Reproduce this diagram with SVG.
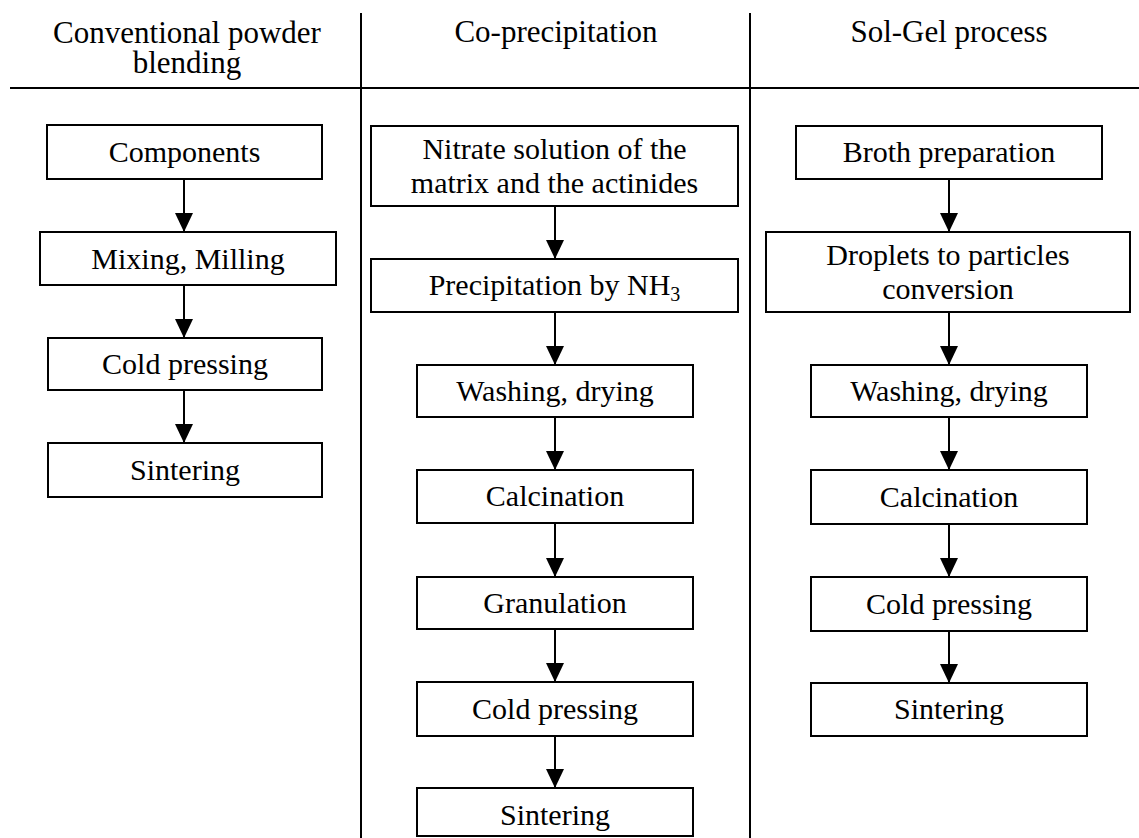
<svg xmlns="http://www.w3.org/2000/svg" width="1139" height="838" viewBox="0 0 1139 838">
  <style>
    text { font-family: "Times New Roman", "Liberation Serif", Tinos, "Noto Serif", "DejaVu Serif", FreeSerif, serif; fill: #000; text-anchor: middle; }
    .hdr { font-size: 31px; }
    .lbl { font-size: 30px; }
    .box { fill: #fff; stroke: #000; stroke-width: 2; }
    .rule { stroke: #000; stroke-width: 2; fill: none; }
    .edge { stroke: #000; stroke-width: 2; fill: none; marker-end: url(#head); }
  </style>
  <defs>
    <marker id="head" markerUnits="userSpaceOnUse" markerWidth="20" markerHeight="20" refX="19" refY="9" orient="auto">
      <path d="M0,0 L19,9 L0,18 Z" fill="#000"/>
    </marker>
  </defs>

  <rect width="1139" height="838" fill="#fff"/>

  <!-- table header -->
  <g id="header">
    <line class="rule" x1="10" y1="88" x2="1139" y2="88" stroke-width="3"/>
    <line class="rule" x1="361" y1="13" x2="361" y2="838"/>
    <line class="rule" x1="750" y1="13" x2="750" y2="838"/>
    <text class="hdr" x="187" y="43">Conventional powder</text>
    <text class="hdr" x="187" y="73">blending</text>
    <text class="hdr" x="556" y="42">Co-precipitation</text>
    <text class="hdr" x="949" y="42">Sol-Gel process</text>
  </g>

  <!-- connectors -->
  <g id="connectors">
    <path class="edge" d="M184,179 V232"/>
    <path class="edge" d="M184,285 V338"/>
    <path class="edge" d="M184,390 V443"/>

    <path class="edge" d="M555,206 V259"/>
    <path class="edge" d="M555,312 V365"/>
    <path class="edge" d="M555,417 V470"/>
    <path class="edge" d="M555,523 V577"/>
    <path class="edge" d="M555,629 V682"/>
    <path class="edge" d="M555,736 V788"/>

    <path class="edge" d="M949,179 V232"/>
    <path class="edge" d="M949,312 V365"/>
    <path class="edge" d="M949,417 V470"/>
    <path class="edge" d="M949,524 V577"/>
    <path class="edge" d="M949,631 V683"/>
  </g>

  <!-- conventional powder blending -->
  <g id="cpb-components">
    <rect class="box" x="47" y="125" width="275" height="54"/>
    <text class="lbl" x="184.5" y="162">Components</text>
  </g>
  <g id="cpb-mixing">
    <rect class="box" x="40" y="232" width="296" height="53"/>
    <text class="lbl" x="188" y="269">Mixing, Milling</text>
  </g>
  <g id="cpb-pressing">
    <rect class="box" x="48" y="338" width="274" height="52"/>
    <text class="lbl" x="185" y="374">Cold pressing</text>
  </g>
  <g id="cpb-sintering">
    <rect class="box" x="48" y="443" width="274" height="54"/>
    <text class="lbl" x="185" y="480">Sintering</text>
  </g>

  <!-- co-precipitation -->
  <g id="cop-nitrate">
    <rect class="box" x="371" y="126" width="367" height="80"/>
    <text class="lbl" x="554.5" y="159">Nitrate solution of the</text>
    <text class="lbl" x="554.5" y="193">matrix and the actinides</text>
  </g>
  <g id="cop-precipitation">
    <rect class="box" x="371" y="259" width="367" height="53"/>
    <text class="lbl" x="554.5" y="295">Precipitation by NH<tspan font-size="20" dy="6">3</tspan></text>
  </g>
  <g id="cop-washing">
    <rect class="box" x="417" y="365" width="276" height="52"/>
    <text class="lbl" x="555" y="401">Washing, drying</text>
  </g>
  <g id="cop-calcination">
    <rect class="box" x="417" y="470" width="276" height="53"/>
    <text class="lbl" x="555" y="506">Calcination</text>
  </g>
  <g id="cop-granulation">
    <rect class="box" x="417" y="577" width="276" height="52"/>
    <text class="lbl" x="555" y="613">Granulation</text>
  </g>
  <g id="cop-pressing">
    <rect class="box" x="417" y="682" width="276" height="54"/>
    <text class="lbl" x="555" y="719">Cold pressing</text>
  </g>
  <g id="cop-sintering">
    <rect class="box" x="417" y="788" width="276" height="48"/>
    <text class="lbl" x="555" y="825">Sintering</text>
  </g>

  <!-- sol-gel process -->
  <g id="sg-broth">
    <rect class="box" x="796" y="126" width="306" height="53"/>
    <text class="lbl" x="949" y="162">Broth preparation</text>
  </g>
  <g id="sg-droplets">
    <rect class="box" x="766" y="232" width="364" height="80"/>
    <text class="lbl" x="948" y="265">Droplets to particles</text>
    <text class="lbl" x="948" y="299">conversion</text>
  </g>
  <g id="sg-washing">
    <rect class="box" x="811" y="365" width="276" height="52"/>
    <text class="lbl" x="949" y="401">Washing, drying</text>
  </g>
  <g id="sg-calcination">
    <rect class="box" x="811" y="470" width="276" height="54"/>
    <text class="lbl" x="949" y="507">Calcination</text>
  </g>
  <g id="sg-pressing">
    <rect class="box" x="811" y="577" width="276" height="54"/>
    <text class="lbl" x="949" y="614">Cold pressing</text>
  </g>
  <g id="sg-sintering">
    <rect class="box" x="811" y="683" width="276" height="53"/>
    <text class="lbl" x="949" y="719">Sintering</text>
  </g>
</svg>
